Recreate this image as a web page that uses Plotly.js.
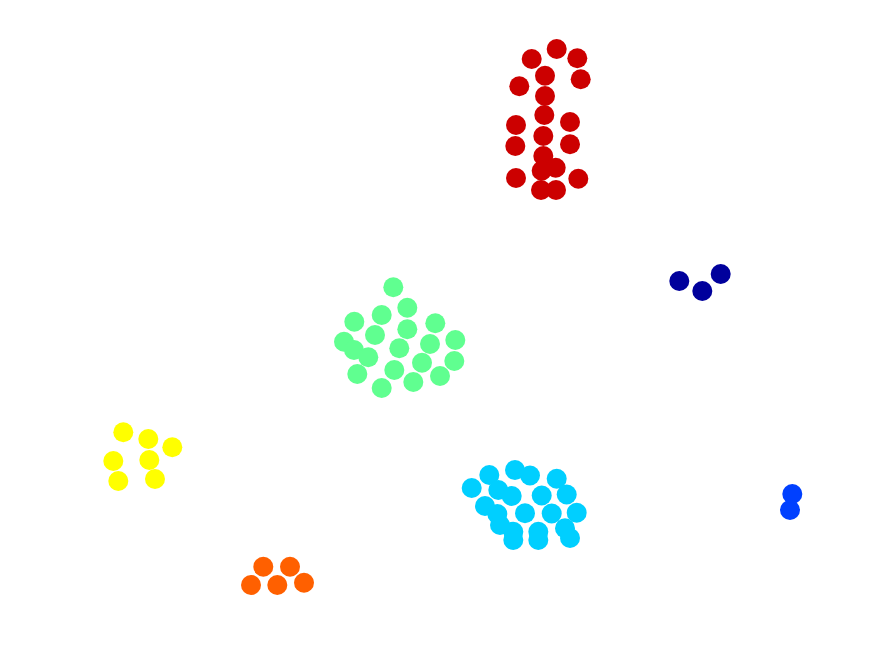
<!DOCTYPE html>
<html>
<head>
<meta charset="utf-8">
<script src="https://cdn.plot.ly/plotly-3.0.1.min.js"></script>
<style>html,body{margin:0;padding:0;background:#fff;}#chart{width:875px;height:656px;}</style>
</head>
<body>
<div id="chart"></div>
<script>
// Cluster point coordinates
const darkBlueX = [679.3, 702.3, 720.7];
const darkBlueY = [281, 291, 274];

const blueX = [792.3, 790.0];
const blueY = [494, 510];

const cyanX = [471.7, 489.3, 515, 498.3, 511.7, 485, 497.3, 525, 500, 513.3, 513.3, 530, 556.7, 541.7, 566.7, 551.7, 576.7, 538.3, 565, 538.3, 570];
const cyanY = [488, 475, 470, 490, 496, 506, 514, 513.3, 525, 531.7, 540, 475.5, 478.8, 495.5, 494.5, 513.5, 512.7, 531.7, 528.3, 540, 538];

const greenX = [393.3, 407.3, 381.7, 354.3, 435.3, 407.3, 375, 344, 455.3, 430, 399.3, 354, 368.3, 422, 454.3, 357.3, 394.3, 440, 413.3, 381.7];
const greenY = [287.3, 307.7, 315, 321.7, 323.3, 329.3, 335, 341.7, 340, 344, 348.3, 350, 357.3, 362.7, 361, 374, 370, 376, 382, 388];

const yellowX = [123.3, 148.3, 172.3, 113.3, 149.3, 118.3, 155];
const yellowY = [432.3, 439, 447.3, 461, 460, 481, 479];

const orangeX = [263.3, 290, 251, 277.3, 304];
const orangeY = [566.7, 566.7, 585, 585, 582.7];

const redX = [556.7, 531.7, 577.3, 545, 580.7, 519.3, 545, 544.3, 516, 570, 543.3, 515.3, 570, 543.3, 555.7, 541.7, 516, 578.3, 541, 556];
const redY = [49, 59, 58.3, 75.7, 79.3, 86.3, 96, 115, 125, 122, 136, 146, 144.3, 156, 167.7, 170.7, 178, 178.7, 190, 190];

const clusters = [
  {x: darkBlueX, y: darkBlueY, color: '#00009c'},
  {x: blueX, y: blueY, color: '#0040ff'},
  {x: cyanX, y: cyanY, color: '#00cfff'},
  {x: greenX, y: greenY, color: '#60ff90'},
  {x: yellowX, y: yellowY, color: '#ffff00'},
  {x: orangeX, y: orangeY, color: '#ff6000'},
  {x: redX, y: redY, color: '#cc0000'}
];

const traces = clusters.map(c => ({
  type: 'scatter', mode: 'markers', x: c.x, y: c.y,
  marker: {size: 20, color: c.color, line: {width: 0}},
  hoverinfo: 'none', showlegend: false
}));

const layout = {
  width: 875, height: 656,
  margin: {l: 0, r: 0, t: 0, b: 0},
  paper_bgcolor: '#ffffff', plot_bgcolor: '#ffffff',
  xaxis: {range: [0, 875], visible: false, showgrid: false, zeroline: false},
  yaxis: {range: [656, 0], visible: false, showgrid: false, zeroline: false},
  showlegend: false
};

Plotly.newPlot('chart', traces, layout, {staticPlot: true, displayModeBar: false});
</script>
</body>
</html>
